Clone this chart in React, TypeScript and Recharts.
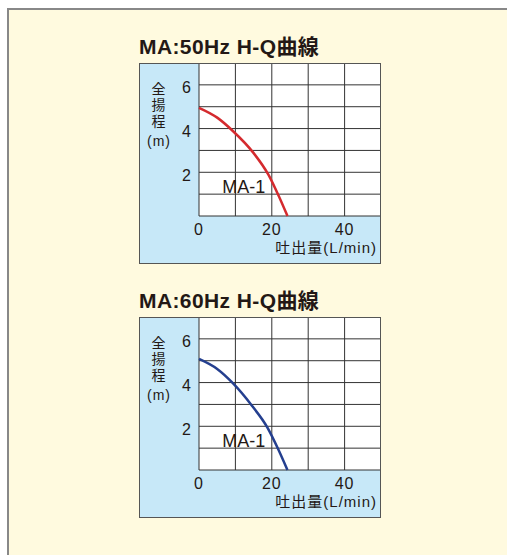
import { LineChart, Line, XAxis, YAxis, CartesianGrid, ReferenceDot } from "recharts";

// axis ticks (grid every step, labels only on some)
const flowTicks = [0, 10, 20, 30, 40, 50];
const flowLabels = [0, 20, 40];
const headTicks = [0, 1, 2, 3, 4, 5, 6, 7];
const headLabels = [2, 4, 6];

// H-Q curve of MA-1
const flow50 = [0, 5, 9.3, 14.9, 19.1, 22, 24.3];
const head50 = [4.95, 4.5, 3.89, 2.9, 1.88, 0.88, 0];
const flow60 = [0, 5, 9.3, 14.5, 18.8, 21.8, 24.3];
const head60 = [5.08, 4.62, 3.97, 2.95, 1.94, 0.94, 0];

const modelName = "MA-1";
const modelAt = { q: 12.3, h: 1.33 };

const FONT = '"Liberation Sans", Arial, "Noto Sans CJK JP", sans-serif';
const INK = "#231815";
const CREAM = "#FFFADF";
const SKY = "#C7E8F8";

function YLabel() {
  return (
    <g fill={INK} fontSize={14} textAnchor="middle" dominantBaseline="central">
      <text x={19.5} y={25.5}>全</text>
      <text x={19.5} y={41.5}>揚</text>
      <text x={19.5} y={57.5}>程</text>
      <text x={20} y={78} letterSpacing={1}>(m)</text>
    </g>
  );
}

function XLabel() {
  return (
    <text x={238} y={190} textAnchor="end" fontSize={15} letterSpacing={1} fill={INK}>
      吐出量(L/min)
    </text>
  );
}

function HeadTick(props: any) {
  const { x, y, payload } = props;
  if (!headLabels.includes(payload.value)) return null;
  return (
    <text x={x} y={y} dy={8.5} textAnchor="end" fontSize={16} fill={INK}>
      {payload.value}
    </text>
  );
}

function HQChart({ title, flow, head, color, top }: { title: string; flow: number[]; head: number[]; color: string; top: number }) {
  const data = flow.map((q, i) => ({ q, h: head[i] }));
  return (
    <>
      <div
        style={{
          position: "absolute",
          left: 139,
          top: top - 27,
          fontSize: 21,
          lineHeight: "21px",
          fontWeight: "bold",
          letterSpacing: 0.4,
          color: INK,
          whiteSpace: "nowrap",
        }}
      >
        {title}
      </div>
      <div style={{ position: "absolute", left: 139, top, width: 242, height: 201, background: SKY }}>
        <LineChart width={242} height={201} data={data} margin={{ top: 0, right: 0, bottom: 0, left: 0 }} style={{ overflow: "visible" }}>
          <CartesianGrid stroke="#333" fill="#fff" fillOpacity={1} />
          <XAxis
            type="number"
            dataKey="q"
            domain={[0, 50]}
            ticks={flowTicks}
            interval={0}
            height={48}
            axisLine={false}
            tickLine={false}
            tick={{ fontSize: 16, fill: INK, letterSpacing: 1 }}
            tickFormatter={(v: number) => (flowLabels.includes(v) ? String(v) : "")}
            label={<XLabel />}
          />
          <YAxis
            type="number"
            domain={[0, 7]}
            ticks={headTicks}
            interval={0}
            width={60}
            axisLine={false}
            tickLine={false}
            tick={<HeadTick />}
            label={<YLabel />}
          />
          <Line type="monotone" dataKey="h" stroke={color} strokeWidth={2.5} dot={false} isAnimationActive={false} />
          <ReferenceDot
            x={modelAt.q}
            y={modelAt.h}
            r={0}
            fill="none"
            stroke="none"
            label={{ value: modelName, position: "center", fontSize: 18, fill: INK }}
          />
        </LineChart>
        <div style={{ position: "absolute", inset: 0, border: "1px solid #555", pointerEvents: "none" }} />
      </div>
    </>
  );
}

export default function App() {
  return (
    <div style={{ position: "absolute", left: 0, top: 0, width: 507, height: 555, overflow: "hidden", background: "#fff", fontFamily: FONT }}>
      <div
        style={{
          position: "absolute",
          left: 7,
          top: 8,
          width: 540,
          height: 580,
          background: CREAM,
          borderLeft: "2px solid #888",
          borderTop: "2px solid #888",
        }}
      />
      <HQChart title="MA:50Hz H-Q曲線" flow={flow50} head={head50} color="#D42A2E" top={63} />
      <HQChart title="MA:60Hz H-Q曲線" flow={flow60} head={head60} color="#243F8F" top={317} />
    </div>
  );
}
